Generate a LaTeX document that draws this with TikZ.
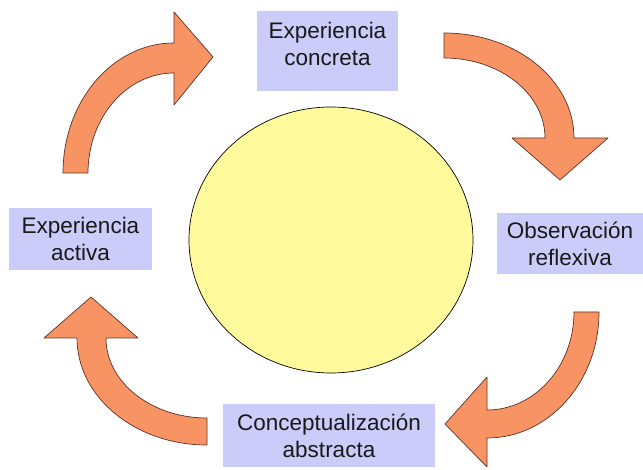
\documentclass[tikz,border=0pt]{standalone}
\usepackage{fontspec}
\setmainfont{Liberation Sans}
\usetikzlibrary{shapes.geometric}

\definecolor{boxlilac}{RGB}{204,204,250}
\definecolor{sunyellow}{RGB}{255,250,155}
\definecolor{arroworange}{RGB}{248,148,100}
\definecolor{arrowedge}{RGB}{90,50,40}
\definecolor{inkgray}{RGB}{25,25,25}

\begin{document}
\begin{tikzpicture}[x=1pt,y=1pt,
  stage/.style={fill=boxlilac,inner sep=0pt,align=center,text=inkgray,font=\fontsize{22.5}{27}\selectfont},
  bent/.style={fill=arroworange,draw=arrowedge,line width=0.7pt,line join=round}]

\useasboundingbox (0,0) rectangle (643,469);

% centre
\node (centre) [ellipse,fill=sunyellow,draw=black,line width=0.7pt,minimum width=284pt,minimum height=266pt] at (331,229) {};

% stages
\node (concreta) [stage,minimum width=141pt,minimum height=80pt,text depth=14pt] at (327.5,418) {Experiencia\\concreta};
\node (reflexiva) [stage,minimum width=146pt,minimum height=61pt] at (570,225.5) {Observación\\reflexiva};
\node (abstracta) [stage,minimum width=212pt,minimum height=63pt] at (329,33.5) {Conceptualización\\abstracta};
\node (activa) [stage,minimum width=143pt,minimum height=62pt] at (80.5,230) {Experiencia\\activa};

% arrows
\draw [bent] (444,436) arc[start angle=90,end angle=0,x radius=130,y radius=105]
  -- (608,331) -- (560,289) -- (512,331) -- (545,331)
  arc[start angle=0,end angle=90,x radius=101,y radius=80] -- cycle;
\draw [bent] (599,157) arc[start angle=0,end angle=-90,x radius=112,y radius=126]
  -- (487,2) -- (445,45) -- (487,92) -- (487,59)
  arc[start angle=-90,end angle=0,x radius=87,y radius=98] -- cycle;
\draw [bent] (207,24) arc[start angle=-90,end angle=-180,x radius=130,y radius=107]
  -- (44,131) -- (91,172) -- (138,131) -- (106,131)
  arc[start angle=180,end angle=270,x radius=101,y radius=80] -- cycle;
\draw [bent] (63,296) arc[start angle=180,end angle=90,x radius=111,y radius=130]
  -- (174,457) -- (213,412) -- (174,364) -- (174,396)
  arc[start angle=90,end angle=180,x radius=86,y radius=100] -- cycle;

\end{tikzpicture}
\end{document}
